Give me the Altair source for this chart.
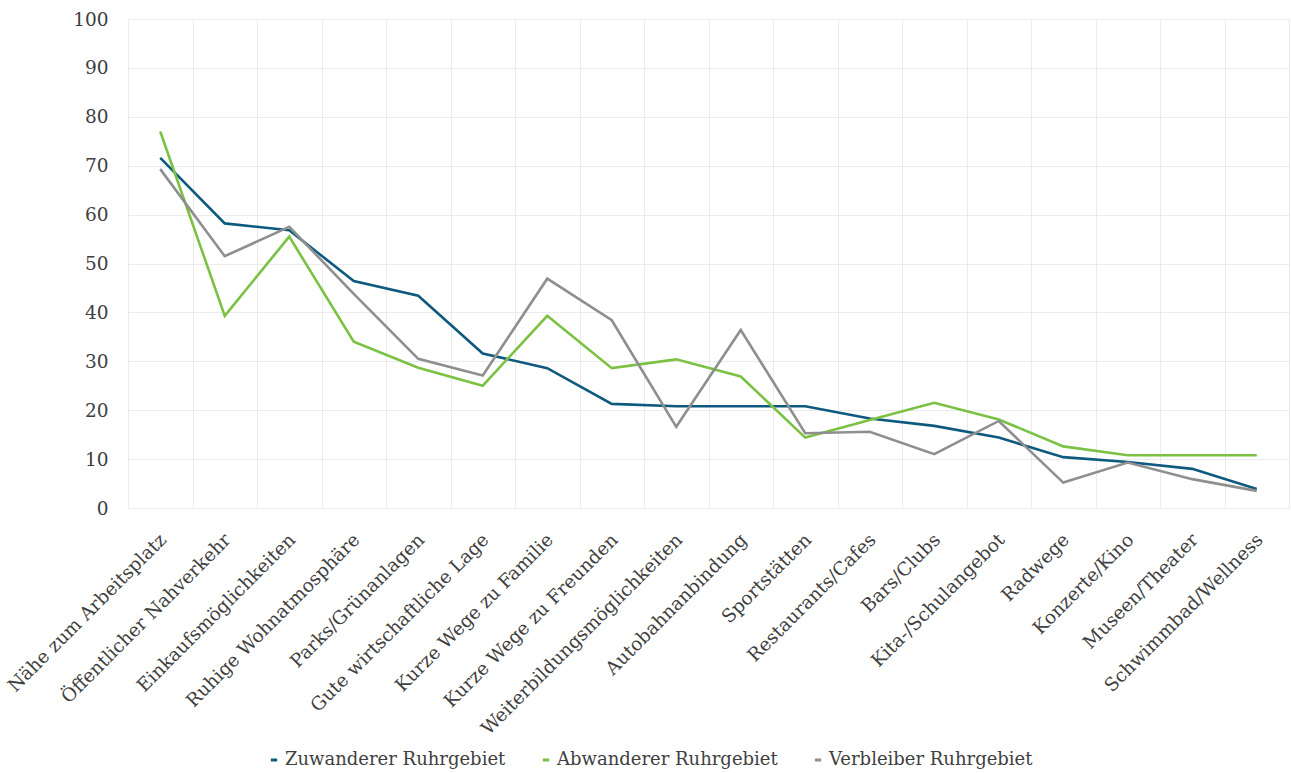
import altair as alt
import pandas as pd

categories = [
    "Nähe zum Arbeitsplatz", "Öffentlicher Nahverkehr", "Einkaufsmöglichkeiten",
    "Ruhige Wohnatmosphäre", "Parks/Grünanlagen", "Gute wirtschaftliche Lage",
    "Kurze Wege zu Familie", "Kurze Wege zu Freunden", "Weiterbildungsmöglichkeiten",
    "Autobahnanbindung", "Sportstätten", "Restaurants/Cafes", "Bars/Clubs",
    "Kita-/Schulangebot", "Radwege", "Konzerte/Kino", "Museen/Theater",
    "Schwimmbad/Wellness",
]

zuwanderer = [71.6, 58.2, 56.8, 46.4, 43.4, 31.6, 28.6, 21.3, 20.8, 20.8,
              20.8, 18.3, 16.8, 14.4, 10.4, 9.4, 8.0, 3.9]
abwanderer = [77.0, 39.3, 55.5, 34.0, 28.7, 25.0, 39.3, 28.6, 30.4, 26.9,
              14.4, 18.0, 21.5, 18.1, 12.6, 10.8, 10.8, 10.8]
verbleiber = [69.3, 51.5, 57.5, 43.8, 30.5, 27.1, 46.9, 38.4, 16.6, 36.4,
              15.3, 15.6, 11.0, 17.8, 5.2, 9.3, 5.9, 3.5]

series_names = ["Zuwanderer Ruhrgebiet", "Abwanderer Ruhrgebiet", "Verbleiber  Ruhrgebiet"]
series_colors = ["#0e5a7e", "#7bc143", "#8f8f8f"]

rows = []
for name, values in zip(series_names, [zuwanderer, abwanderer, verbleiber]):
    for cat, v in zip(categories, values):
        rows.append({"Kriterium": cat, "Gruppe": name, "Wert": v})
df = pd.DataFrame(rows)

font = "DejaVu Serif"
text_color = "#404040"

chart = (
    alt.Chart(df)
    .mark_line(strokeWidth=2.6)
    .encode(
        x=alt.X(
            "Kriterium:N",
            sort=categories,
            scale=alt.Scale(type="band", paddingInner=0, paddingOuter=0),
            axis=alt.Axis(
                title=None,
                labelAngle=-45,
                labelAlign="right",
                labelBaseline="top",
                labelFont=font,
                labelFontSize=18.5,
                labelColor=text_color,
                labelPadding=22,
                labelOffset=-4,
                ticks=False,
                domain=False,
                grid=True,
                tickBand="extent",
                gridColor="#ebebeb",
                gridWidth=1,
                labelLimit=400,
            ),
        ),
        y=alt.Y(
            "Wert:Q",
            scale=alt.Scale(domain=[0, 100], nice=False),
            axis=alt.Axis(
                title=None,
                values=list(range(0, 101, 10)),
                labelFont=font,
                labelFontSize=18.5,
                labelColor=text_color,
                labelPadding=20,
                ticks=False,
                domain=False,
                grid=True,
                gridColor="#ebebeb",
                gridWidth=1,
            ),
        ),
        color=alt.Color(
            "Gruppe:N",
            sort=series_names,
            scale=alt.Scale(domain=series_names, range=series_colors),
            legend=alt.Legend(
                title=None,
                orient="none",
                direction="horizontal",
                legendX=137,
                legendY=732,
                gridAlign="none",
                symbolType="stroke",
                symbolSize=40,
                symbolStrokeWidth=3,
                labelFont=font,
                labelFontSize=18,
                labelColor=text_color,
                labelOffset=2,
                labelLimit=400,
                columnPadding=30,
            ),
        ),
    )
    .properties(
        width=1161,
        height=489,
        autosize=alt.AutoSizeParams(type="none"),
        padding={"left": 128, "top": 19, "right": 2, "bottom": 265},
    )
    .configure_view(stroke=None)
    .configure(background="white")
)

chart.save("out.html", embed_options={"renderer": "svg", "actions": False})
